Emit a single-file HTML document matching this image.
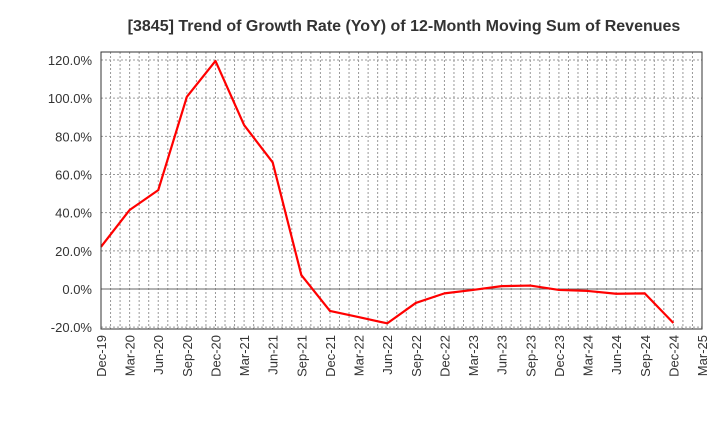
<!DOCTYPE html>
<html><head><meta charset="utf-8"><style>
body{margin:0;background:#fff;}
svg text{font-family:"Liberation Sans",Arial,sans-serif;}
</style></head><body>
<svg width="720" height="440" xmlns="http://www.w3.org/2000/svg">
<text x="404" y="31" text-anchor="middle" font-size="16" font-weight="bold" fill="#333">[3845]  Trend of Growth Rate (YoY) of 12-Month Moving Sum of Revenues</text>
<g id="grid"></g>
<g id="axes"></g>
<polyline id="line" fill="none" stroke="#ff0000" stroke-width="2.2" stroke-linejoin="round"/>
<rect x="101" y="52" width="601" height="277" fill="none" stroke="#333" stroke-width="1"/>
</svg>
<script>
const categories=["Dec-19","Mar-20","Jun-20","Sep-20","Dec-20","Mar-21","Jun-21","Sep-21","Dec-21","Mar-22","Jun-22","Sep-22","Dec-22","Mar-23","Jun-23","Sep-23","Dec-23","Mar-24","Jun-24","Sep-24","Dec-24","Mar-25"];
const values=[22.1,41.4,51.8,100.7,119.5,85.9,66.3,7.3,-11.5,-14.7,-18,-7.3,-2.3,-0.5,1.5,1.8,-0.5,-1,-2.5,-2.3,-17.8];
const yTicks=[-20,0,20,40,60,80,100,120];
const NS="http://www.w3.org/2000/svg";
const X0=101,X1=702,Y0=52,Y1=329;
const qw=(X1-X0)/(categories.length-1);
function x(i){return X0+i*qw;}
function y(v){return 289-v*(229/120);}
const grid=document.getElementById('grid'),axes=document.getElementById('axes');
function mk(t,a,p){const e=document.createElementNS(NS,t);for(const k in a)e.setAttribute(k,a[k]);p.appendChild(e);return e;}
for(let m=1;m<(categories.length-1)*3;m++){
  const xx=X0+m*qw/3;
  const l=mk('line',{x1:xx,x2:xx,y1:Y0,y2:Y1,stroke:'#999','stroke-dasharray':'2,2','stroke-width':1},grid);
  
  
}
yTicks.forEach(v=>{
  const yy=y(v);
  const l=mk('line',{x1:X0,x2:X1,y1:yy,y2:yy,stroke:v===0?'#666':'#999','stroke-dasharray':v===0?'':'2,2','stroke-width':1},grid);
  
  
  const t=mk('text',{x:X0-9,y:yy+5,'text-anchor':'end','font-size':13,fill:'#333'},axes);
  t.textContent=v.toFixed(1)+'%';
  
  
});
categories.forEach((c,i)=>{
  const xx=x(i);
  const t=mk('text',{x:0,y:0,'text-anchor':'end','font-size':13,fill:'#333',transform:`translate(${xx+5},${Y1+6}) rotate(-90)`},axes);
  t.textContent=c;
  
  
});
document.getElementById('line').setAttribute('points',values.map((v,i)=>x(i)+','+y(v)).join(' '));
</script>
</body></html>
